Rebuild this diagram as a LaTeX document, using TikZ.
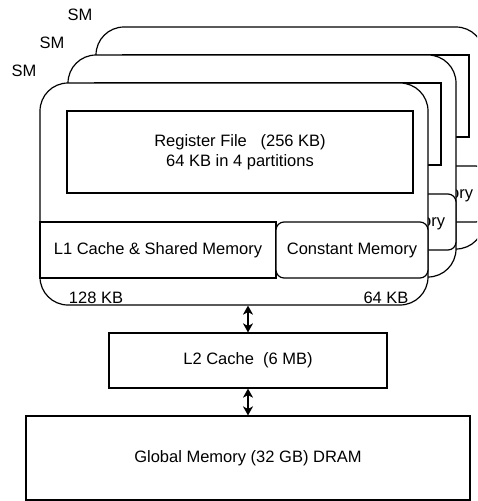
\documentclass[tikz,border=0pt]{standalone}
\usepackage{fontspec}
\setmainfont{Liberation Sans}
\usetikzlibrary{arrows.meta}
\newcommand\lblfont{\fontsize{16.5}{19.5}\selectfont}
\tikzset{
  box/.style={draw=black, line width=1.2pt, fill=white, inner sep=0pt,
    font=\lblfont, align=center},
  smframe/.style={box, rounded corners=28pt, minimum width=388pt, minimum height=222pt},
  regfile/.style={box, minimum width=346pt, minimum height=82pt},
  lonebox/.style={box, minimum width=236pt, minimum height=56pt},
  constbox/.style={box, rounded corners=8pt, minimum width=152pt, minimum height=56pt},
  plain/.style={inner sep=0pt, font=\lblfont},
  link/.style={line width=1.2pt, {Stealth[length=9pt,width=10pt,inset=2.5pt]}-{Stealth[length=9pt,width=10pt,inset=2.5pt]}}
}
\begin{document}
\begin{tikzpicture}[x=1pt, y=-1pt]
  \useasboundingbox (0,0) rectangle (477,501);
  \clip (0,0) rectangle (477,501);
  % three stacked streaming multiprocessors, back to front;
  % only the front one carries the labels that are covered in the others
  \foreach \k in {2,1,0} {
    \begin{scope}[shift={(28*\k,-28*\k)}]
      \node[smframe] (sm\k) at (234,194) {};
      \node[regfile] (rf\k) at (240,152) {\ifnum\k=0 Register File\ \ \ (256 KB)\\64 KB in 4 partitions\fi};
      \node[lonebox] (l1\k) at (158,250) {\ifnum\k=0 L1 Cache \& Shared Memory\fi};
      \node[constbox] (cm\k) at (352,250) {Constant Memory};
      \node[plain] (smlbl\k) at (24,71) {SM};
    \end{scope}
  }
  % sizes of the on-chip memories
  \node[plain] (l1size) at (96,298) {128 KB};
  \node[plain] (cmsize) at (386,298) {64 KB};
  % off-chip hierarchy
  \node[box, minimum width=278pt, minimum height=55pt] (l2) at (248,360.5) {L2 Cache\ \ (6 MB)};
  \node[box, minimum width=444pt, minimum height=84pt] (gm) at (248,458) {Global Memory (32 GB) DRAM};
  \draw[link] (l2.north |- sm0.south) -- (l2.north);
  \draw[link] (l2.south) -- (gm.north);
\end{tikzpicture}
\end{document}
